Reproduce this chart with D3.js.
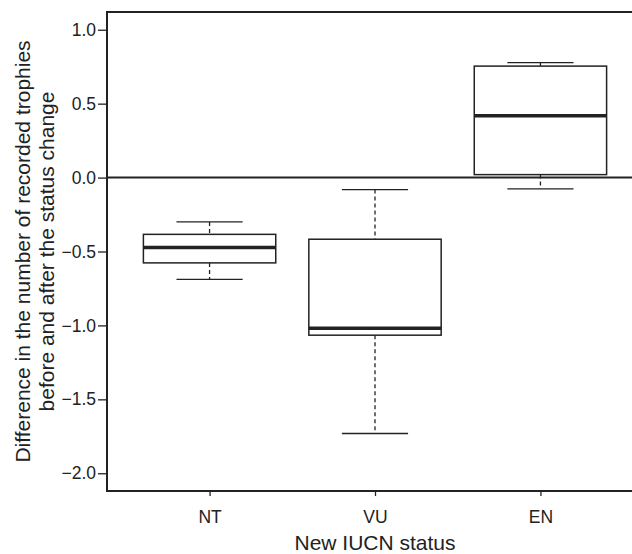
<!DOCTYPE html>
<html>
<head>
<meta charset="utf-8">
<script src="https://cdn.jsdelivr.net/npm/d3@7"></script>
<style>
  body { margin: 0; background: #fff; }
  svg text { font-family: "Liberation Sans", Arial, sans-serif; fill: #222; }
</style>
</head>
<body>
<svg id="chart" width="632" height="554"></svg>
<script>
// IUCN categories and box statistics
const categories = ["NT", "VU", "EN"];
const lowerWhisker = [-0.689, -1.731, -0.076];
const q1 = [-0.577, -1.066, 0.020];
const median = [-0.473, -1.019, 0.418];
const q3 = [-0.384, -0.417, 0.754];
const upperWhisker = [-0.300, -0.081, 0.777];
const yTicks = [-2.0, -1.5, -1.0, -0.5, 0.0, 0.5, 1.0];

const boxes = categories.map((c, i) => ({
    cat: c, i: i + 1,
    lo: lowerWhisker[i], q1: q1[i], med: median[i], q3: q3[i], hi: upperWhisker[i]
}));

const svg = d3.select("#chart");
const ink = "#222";

// R style: xlim 0.5..3.5 and ylim -2..1, each widened by 4%
const x = d3.scaleLinear().domain([0.38, 3.62]).range([107, 643]);
const y = d3.scaleLinear().domain([-2.12, 1.12]).range([491, 12]);

const unit = x(1) - x(0);

// plot frame
svg.append("rect")
    .attr("x", x(0.38)).attr("y", y(1.12))
    .attr("width", x(3.62) - x(0.38)).attr("height", y(-2.12) - y(1.12))
    .attr("fill", "none").attr("stroke", ink).attr("stroke-width", 2);

// zero line
svg.append("line")
    .attr("x1", x(0.38)).attr("x2", x(3.62))
    .attr("y1", y(0)).attr("y2", y(0))
    .attr("stroke", ink).attr("stroke-width", 2);

// y axis
const yAxis = svg.append("g")
    .attr("transform", "translate(" + x(0.38) + ",0)")
    .call(d3.axisLeft(y).tickValues(yTicks).tickSize(9).tickPadding(2)
        .tickFormat(d => d3.format(".1f")(d).replace("-", "\u2212")));
yAxis.select(".domain").remove();
yAxis.selectAll(".tick line").attr("stroke", ink).attr("stroke-width", 1.3);
yAxis.selectAll(".tick text").attr("font-size", 17.5).attr("fill", ink);

// x axis
const xAxis = svg.append("g")
    .attr("transform", "translate(0," + y(-2.12) + ")")
    .call(d3.axisBottom(x).tickValues(boxes.map(b => b.i)).tickSize(5).tickPadding(15)
        .tickFormat(d => categories[d - 1]));
xAxis.select(".domain").remove();
xAxis.selectAll(".tick line").attr("stroke", ink).attr("stroke-width", 1.3);
xAxis.selectAll(".tick text").attr("font-size", 17.5).attr("fill", ink);

// axis titles
svg.append("text")
    .attr("x", (x(0.38) + x(3.62)) / 2).attr("y", 550)
    .attr("text-anchor", "middle").attr("font-size", 21)
    .text("New IUCN status");

const yMid = (y(1.12) + y(-2.12)) / 2;
const yTitle = svg.append("text")
    .attr("transform", "translate(0," + yMid + ") rotate(-90)")
    .attr("text-anchor", "middle").attr("font-size", 21);
yTitle.append("tspan").attr("x", 0).attr("y", 30)
    .text("Difference in the number of recorded trophies");
yTitle.append("tspan").attr("x", 0).attr("y", 54)
    .text("before and after the status change");

// boxes
const g = svg.append("g").selectAll("g.box").data(boxes).enter()
    .append("g").attr("class", "box");

// whiskers (dashed)
g.append("line")
    .attr("x1", d => x(d.i)).attr("x2", d => x(d.i))
    .attr("y1", d => y(d.hi)).attr("y2", d => y(d.q3))
    .attr("stroke", ink).attr("stroke-width", 1.3).attr("stroke-dasharray", "4,3");
g.append("line")
    .attr("x1", d => x(d.i)).attr("x2", d => x(d.i))
    .attr("y1", d => y(d.q1)).attr("y2", d => y(d.lo))
    .attr("stroke", ink).attr("stroke-width", 1.3).attr("stroke-dasharray", "4,3");

// staples
[d => d.hi, d => d.lo].forEach(f => {
    g.append("line")
        .attr("x1", d => x(d.i) - 0.2 * unit).attr("x2", d => x(d.i) + 0.2 * unit)
        .attr("y1", d => y(f(d))).attr("y2", d => y(f(d)))
        .attr("stroke", ink).attr("stroke-width", 1.3);
});

// box
g.append("rect")
    .attr("x", d => x(d.i) - 0.4 * unit).attr("width", 0.8 * unit)
    .attr("y", d => y(d.q3)).attr("height", d => y(d.q1) - y(d.q3))
    .attr("fill", "#fff").attr("stroke", ink).attr("stroke-width", 1.5);

// median
g.append("line")
    .attr("x1", d => x(d.i) - 0.4 * unit).attr("x2", d => x(d.i) + 0.4 * unit)
    .attr("y1", d => y(d.med)).attr("y2", d => y(d.med))
    .attr("stroke", ink).attr("stroke-width", 3.5);
</script>
</body>
</html>
